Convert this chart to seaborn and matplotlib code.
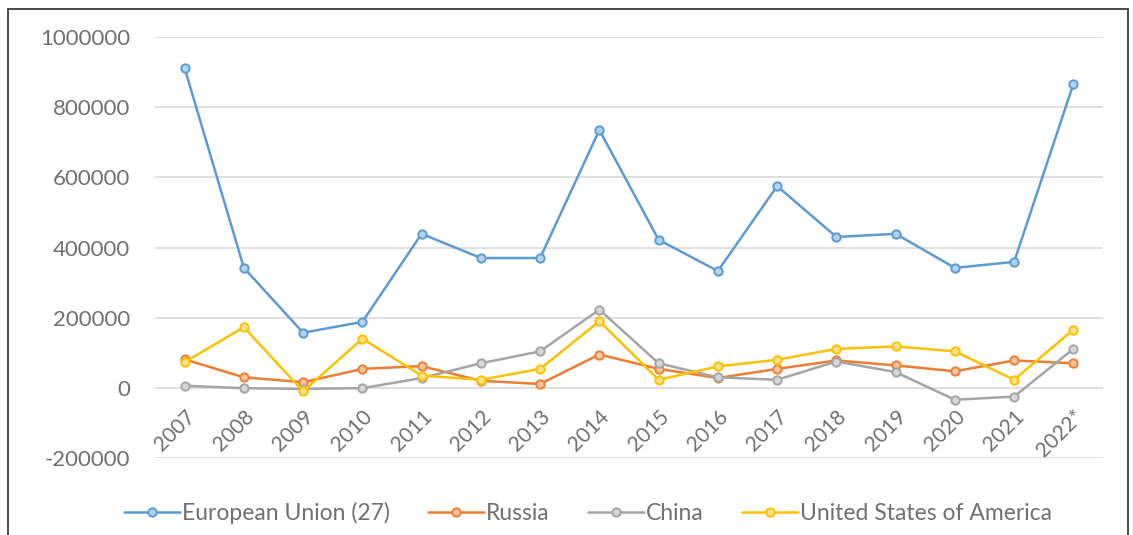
import pandas as pd
import seaborn as sns
import matplotlib.pyplot as plt
import matplotlib.patches as patches
import matplotlib.colors as mcolors

sns.set_style("white")
plt.rcParams['font.family'] = ['Lato', 'DejaVu Sans']

# values
years = ['2007', '2008', '2009', '2010', '2011', '2012', '2013', '2014',
         '2015', '2016', '2017', '2018', '2019', '2020', '2021', '2022*']
eu = [911000, 342000, 157000, 188000, 439000, 370000, 370000, 735000,
      422000, 333000, 575000, 430000, 439000, 342000, 359000, 866000]
russia = [81000, 30000, 16000, 54000, 62000, 20000, 11000, 95000,
          54000, 28000, 54000, 78000, 64000, 47000, 78000, 70000]
china = [6000, -1000, -3000, -1000, 28000, 70000, 104000, 223000,
         70000, 30000, 23000, 75000, 45000, -34000, -25000, 111000]
usa = [73000, 173000, -10000, 140000, 35000, 23000, 54000, 190000,
       23000, 61000, 80000, 111000, 118000, 104000, 23000, 166000]

series = ['European Union (27)', 'Russia', 'China', 'United States of America']
colors = ['#5B9BD5', '#ED7D31', '#A5A5A5', '#FFC000']

df = pd.DataFrame({'Year': years, 'European Union (27)': eu, 'Russia': russia,
                   'China': china, 'United States of America': usa})
df_melted = df.melt(id_vars='Year', var_name='Country', value_name='Value')

fig = plt.figure(figsize=(11.33, 5.35), dpi=100)
ax = fig.add_axes([155 / 1133, 1 - 458 / 535, (1103 - 155) / 1133, (458 - 37) / 535])

sns.lineplot(data=df_melted, x='Year', y='Value', hue='Country', hue_order=series,
             palette=colors, marker='o', markersize=6, linewidth=1.8,
             sort=False, ax=ax)

for line, c in zip(ax.lines, colors):
    light = mcolors.to_rgb(c)
    light = tuple(0.45 * v + 0.55 for v in light)
    line.set_markerfacecolor(light)
    line.set_markeredgecolor(c)
    line.set_markeredgewidth(1.4)

ax.get_legend().remove()
ax.set_xlim(-0.5, len(years) - 0.5)
ax.set_ylim(-200000, 1000000)
ax.set_yticks(range(-200000, 1000001, 200000))
ax.set_yticklabels([str(v) for v in range(-200000, 1000001, 200000)])
ax.yaxis.grid(True, color='#D9D9D9', linewidth=1.2)
ax.set_axisbelow(True)
for s in ax.spines.values():
    s.set_visible(False)
ax.set_xlabel('')
ax.set_ylabel('')
ax.tick_params(axis='y', colors='#707070', labelsize=16, length=0, pad=18)
ax.tick_params(axis='x', colors='#707070', labelsize=15, length=0)
ax.set_xticks(range(len(years)))
ax.set_xticklabels(years, rotation=45, ha='right', va='top', rotation_mode='anchor')
for t in ax.get_xticklabels():
    t.set_y(0.135)

fig.legend(ax.lines[:4], series, loc='center', bbox_to_anchor=(588 / 1133, 1 - 513 / 535),
           ncol=4, frameon=False, fontsize=16.5, labelcolor='#707070',
           handlelength=2.45, handletextpad=0.1, columnspacing=1.65)

fig.patches.append(patches.Rectangle((8 / 1133, -0.1), 1120 / 1133, 1.1 - 9 / 535,
                                     transform=fig.transFigure, fill=False,
                                     edgecolor='#3a3a3a', linewidth=1.3))

plt.savefig('out.png', dpi=100)
